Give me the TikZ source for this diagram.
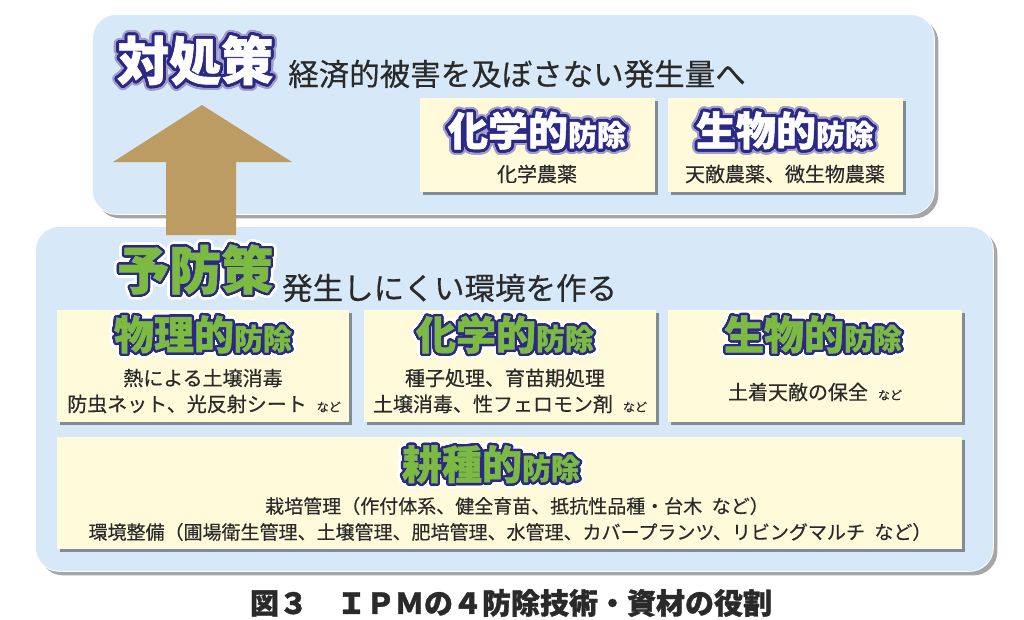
\documentclass[tikz,border=0pt]{standalone}
\usepackage{fontspec}
\setmainfont{Noto Sans CJK JP}[FakeBold=0.4]
\newfontfamily\heavy{Noto Sans CJK JP}[BoldFeatures={FakeBold=1.2}]
\usepackage[copies]{contour}
\usetikzlibrary{shadows}
\definecolor{panel}{HTML}{D7E9F8}
\definecolor{cream}{HTML}{FFFADA}
\definecolor{navy}{HTML}{2B2886}
\definecolor{leaf}{HTML}{7DBA42}
\definecolor{tanc}{HTML}{BD9C64}
\definecolor{ink}{HTML}{2A2A2A}
\contournumber{32}
\newcommand\glowlen{2.9pt}
\newcommand\glow[4]{\rlap{\color{#1}\contourlength{5.2pt}\contour{#1}{#4}}\rlap{\color{#2}\contourlength{\glowlen}\contour{#2}{#4}}{\color{#3}#4}}
\newcommand\greenttl[1]{\renewcommand\glowlen{2.3pt}\glow{white}{navy}{leaf}{#1}}
\newcommand\bigsmall[2]{{\fontsize{40}{40}\selectfont\heavy\bfseries #1}{\fontsize{29}{29}\selectfont\heavy\bfseries #2}}
\newcommand\nado{\hspace{0.5em}{\fontsize{12}{12}\selectfont など}}
\tikzset{
  panelbox/.style={fill=panel, draw=white, line width=0.8pt, rounded corners=24pt, anchor=north west, inner sep=0,
    drop shadow={shadow xshift=4pt, shadow yshift=-4pt, fill=black, opacity=0.35}},
  itembox/.style={fill=cream, anchor=north west, inner sep=0,
    drop shadow={shadow xshift=3pt, shadow yshift=-3pt, fill=black, opacity=0.4}},
  bodytext/.style={inner sep=0, text=ink, font=\fontsize{20}{20}\selectfont},
  smalltext/.style={inner sep=0, text=ink, font=\fontsize{19}{19}\selectfont},
  headtext/.style={inner sep=0, text=ink, font=\fontsize{30.5}{30.5}\selectfont, anchor=west},
}
\begin{document}
\begin{tikzpicture}[x=1pt,y=-1pt]
\useasboundingbox[fill=white] (0,0) rectangle (1024,619);
% panels
\node[panelbox, minimum width=842pt, minimum height=200pt] (top) at (92,14) {};
\node[panelbox, minimum width=958pt, minimum height=345pt] (low) at (35,226) {};
% arrow
\fill[tanc] (166,235) -- (166,162) -- (113,162) -- (202,105) -- (292,162) -- (236,162) -- (236,235) -- cycle;
% top panel
\node[inner sep=0, anchor=west] (t1) at (117,63) {\glow{navy!45}{navy}{white}{\fontsize{52}{52}\selectfont\heavy\bfseries 対処策}};
\node[headtext] (s1) at (288,74) {経済的被害を及ぼさない発生量へ};
\node[itembox, minimum width=235pt, minimum height=94pt] (b1) at (420,98) {};
\node[itembox, minimum width=235pt, minimum height=94pt] (b2) at (668,98) {};
\node[inner sep=0] (h1) at (537,133) {\glow{navy!45}{navy}{white}{\bigsmall{化学的}{防除}}};
\node[bodytext] (d1) at (537,174) {化学農薬};
\node[inner sep=0] (h2) at (785,133) {\glow{navy!45}{navy}{white}{\bigsmall{生物的}{防除}}};
\node[bodytext] (d2) at (785,174) {天敵農薬、微生物農薬};
% lower panel
\node[inner sep=0, anchor=west] (t2) at (117,272) {\greenttl{\fontsize{52}{52}\selectfont\heavy\bfseries 予防策}};
\node[headtext] (s2) at (282,288) {発生しにくい環境を作る};
\node[itembox, minimum width=292pt, minimum height=112pt] (bA) at (57,310) {};
\node[itembox, minimum width=292pt, minimum height=112pt] (bB) at (364,310) {};
\node[itembox, minimum width=294pt, minimum height=112pt] (bC) at (668,310) {};
\node[itembox, minimum width=905pt, minimum height=112pt] (bD) at (57,437) {};
\node[inner sep=0] (hA) at (203,337) {\greenttl{\bigsmall{物理的}{防除}}};
\node[bodytext] (dA1) at (203,378) {熱による土壌消毒};
\node[bodytext] (dA2) at (204,404) {防虫ネット、光反射シート\nado};
\node[inner sep=0] (hB) at (505,337) {\greenttl{\bigsmall{化学的}{防除}}};
\node[bodytext] (dB1) at (505,378) {種子処理、育苗期処理};
\node[bodytext] (dB2) at (510,404) {土壌消毒、性フェロモン剤\nado};
\node[inner sep=0] (hC) at (813,337) {\greenttl{\bigsmall{生物的}{防除}}};
\node[bodytext] (dC1) at (815,392) {土着天敵の保全\nado};
\node[inner sep=0] (hD) at (491,467) {\greenttl{\bigsmall{耕種的}{防除}}};
\node[smalltext] (dD1) at (517,506) {栽培管理（作付体系、健全育苗、抵抗性品種・台木\hspace{0.5em}など）};
\node[smalltext] (dD2) at (510,532) {環境整備（圃場衛生管理、土壌管理、肥培管理、水管理、カバープランツ、リビングマルチ\hspace{0.5em}など）};
% caption
\node[inner sep=0, text=ink] (cap) at (511,603) {\fontsize{29}{29}\selectfont\heavy\bfseries 図３　ＩＰＭの４防除技術・資材の役割};
\end{tikzpicture}
\end{document}
